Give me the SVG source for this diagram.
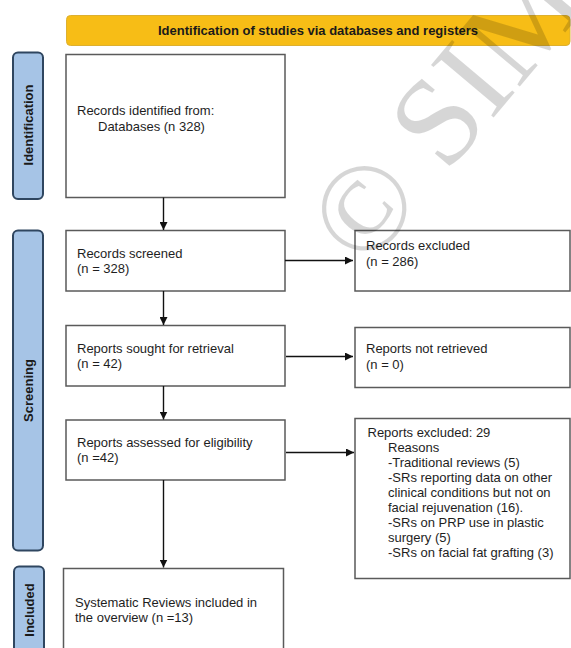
<svg xmlns="http://www.w3.org/2000/svg" width="571" height="648" viewBox="0 0 571 648">
<defs>
<style>
.box{fill:#fff;stroke:#5a5a5a;stroke-width:1.5}
.side{fill:#a6c4e6;stroke:#2f4660;stroke-width:2}
.t{font-family:"Liberation Sans",Arial,sans-serif;font-size:13px;fill:#1e1e1e}
.st{font-family:"Liberation Sans",Arial,sans-serif;font-size:13px;font-weight:bold;fill:#1a1a1a}
.conn{stroke:#111;stroke-width:1.4;fill:none;marker-end:url(#ah)}
</style>
<marker id="ah" viewBox="0 0 10 10" refX="10" refY="5" markerWidth="8" markerHeight="8" markerUnits="userSpaceOnUse" orient="auto">
<path d="M0,0 L10,5 L0,10 z" fill="#111"/>
</marker>
</defs>
<rect width="571" height="648" fill="#fff"/>

<g id="header">
<rect x="66.5" y="15.5" width="503.5" height="30" rx="4" fill="#f7bd16" stroke="#ddb030" stroke-width="1"/>
<text x="318" y="35" text-anchor="middle" class="st" fill="#2a1e00">Identification of studies via databases and registers</text>
</g>

<g id="side-identification">
<rect x="13" y="52.5" width="30" height="146.5" rx="5" class="side"/>
<text class="st" transform="translate(33,125) rotate(-90)" text-anchor="middle">Identification</text>
</g>
<g id="side-screening">
<rect x="13" y="230.5" width="30" height="320" rx="5" class="side"/>
<text class="st" transform="translate(33,390.5) rotate(-90)" text-anchor="middle">Screening</text>
</g>
<g id="side-included">
<rect x="14" y="566.5" width="30" height="95" rx="5" class="side"/>
<text class="st" transform="translate(34,610) rotate(-90)" text-anchor="middle">Included</text>
</g>

<g id="records-identified">
<rect x="66" y="54.5" width="219" height="143" class="box"/>
<text class="t" x="77" y="115">Records identified from:</text>
<text class="t" x="98" y="131">Databases (n 328)</text>
</g>
<g id="records-screened">
<rect x="66" y="230.5" width="219" height="60.5" class="box"/>
<text class="t" x="77" y="258">Records screened</text>
<text class="t" x="77" y="273">(n = 328)</text>
</g>
<g id="records-excluded">
<rect x="355" y="230.5" width="215" height="60.5" class="box"/>
<text class="t" x="366" y="250">Records excluded</text>
<text class="t" x="366" y="265.5">(n = 286)</text>
</g>
<g id="reports-sought">
<rect x="66" y="325.5" width="219" height="60.5" class="box"/>
<text class="t" x="77" y="353">Reports sought for retrieval</text>
<text class="t" x="77" y="368">(n = 42)</text>
</g>
<g id="reports-not-retrieved">
<rect x="355" y="327.5" width="215" height="60" class="box"/>
<text class="t" x="366" y="353">Reports not retrieved</text>
<text class="t" x="366" y="369">(n = 0)</text>
</g>
<g id="reports-assessed">
<rect x="66" y="420" width="219" height="60" class="box"/>
<text class="t" x="77" y="447">Reports assessed for eligibility</text>
<text class="t" x="77" y="462">(n =42)</text>
</g>
<g id="reports-excluded">
<rect x="355" y="418.5" width="215" height="160" class="box"/>
<text class="t" x="367.5" y="437">Reports excluded: 29</text>
<text class="t" x="388" y="452">Reasons</text>
<text class="t" x="388" y="467">-Traditional reviews (5)</text>
<text class="t" x="388" y="482">-SRs reporting data on other</text>
<text class="t" x="388" y="497">clinical conditions but not on</text>
<text class="t" x="388" y="512">facial rejuvenation (16).</text>
<text class="t" x="388" y="527">-SRs on PRP use in plastic</text>
<text class="t" x="388" y="542">surgery (5)</text>
<text class="t" x="388" y="557">-SRs on facial fat grafting (3)</text>
</g>
<g id="included-reviews">
<rect x="63.5" y="568.5" width="220" height="95" class="box"/>
<text class="t" x="75" y="607">Systematic Reviews included in</text>
<text class="t" x="75" y="622">the overview (n =13)</text>
</g>

<g id="connectors">
<line x1="163.5" y1="197.5" x2="163.5" y2="230" class="conn"/>
<line x1="163.5" y1="291" x2="163.5" y2="325" class="conn"/>
<line x1="163.5" y1="386" x2="163.5" y2="419.5" class="conn"/>
<line x1="163.5" y1="480" x2="163.5" y2="567.5" class="conn"/>
<line x1="285" y1="260.5" x2="353" y2="260.5" class="conn"/>
<line x1="286" y1="356.5" x2="353" y2="356.5" class="conn"/>
<line x1="286" y1="452.5" x2="354" y2="452.5" class="conn"/>
</g>

<text transform="translate(365,271) rotate(-50)" font-family="'Liberation Serif','Times New Roman',serif" font-size="125" fill="#000" fill-opacity="0.16">© SIM</text>
</svg>
